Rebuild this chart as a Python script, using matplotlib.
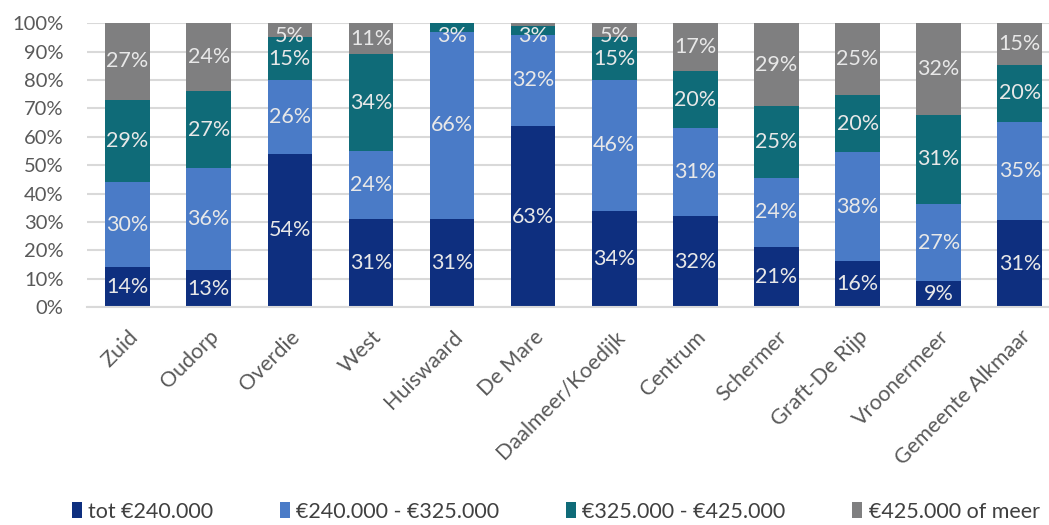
import numpy as np
import matplotlib.pyplot as plt
from matplotlib.patches import Patch

plt.rcParams['font.family'] = ['Lato', 'DejaVu Sans']

wijken = ['Zuid', 'Oudorp', 'Overdie', 'West', 'Huiswaard', 'De Mare',
          'Daalmeer/Koedijk', 'Centrum', 'Schermer', 'Graft-De Rijp',
          'Vroonermeer', 'Gemeente Alkmaar']

# share of homes per price class (%)
tot_240 = [14, 13, 54, 31, 31, 63, 34, 32, 21, 16, 9, 31]
van_240_325 = [30, 36, 26, 24, 66, 32, 46, 31, 24, 38, 27, 35]
van_325_425 = [29, 27, 15, 34, 3, 3, 15, 20, 25, 20, 31, 20]
vanaf_425 = [27, 24, 5, 11, 0, 1, 5, 17, 29, 25, 32, 15]

klassen = ['tot €240.000', '€240.000 - €325.000', '€325.000 - €425.000', '€425.000 of meer']
kleuren = ['#0e2f7f', '#4a7bc7', '#0f6b78', '#7f7f80']

series = np.array([tot_240, van_240_325, van_325_425, vanaf_425], dtype=float)
totals = series.sum(axis=0)
shares = series / totals * 100  # 100% stacked

fig = plt.figure(figsize=(10.49, 5.25), dpi=100)
ax = fig.add_axes([0.083, 0.415, 0.917, 0.541])

x = np.arange(len(wijken))
bottom = np.zeros(len(wijken))
for i in range(4):
    ax.bar(x, shares[i], 0.55, bottom=bottom, color=kleuren[i], zorder=2)
    for j in range(len(wijken)):
        if series[i, j] >= 3:
            yc = min(bottom[j] + shares[i, j] / 2, 95.5)
            ax.text(x[j], yc, '%d%%' % series[i, j], ha='center', va='center',
                    color='#e8e8e8', fontsize=15.5, zorder=3)
    bottom += shares[i]

ax.set_ylim(0, 100)
ax.set_xlim(-0.5, 11.36)
ax.set_yticks(np.arange(0, 101, 10))
ax.set_yticklabels(['%d%%' % v for v in range(0, 101, 10)])
ax.yaxis.grid(True, color='#d9d9d9', linewidth=1.5, zorder=0)
ax.set_axisbelow(True)
for s in ['top', 'right', 'left']:
    ax.spines[s].set_visible(False)
ax.spines['bottom'].set_color('#d9d9d9')
ax.spines['bottom'].set_linewidth(1.5)
ax.tick_params(axis='both', length=0, labelcolor='#595959')
ax.tick_params(axis='y', pad=17, labelsize=14.5)
ax.set_xticks(x)
ax.set_xticklabels(wijken, rotation=45, ha='right', va='top', rotation_mode='anchor',
                   fontsize=15.5)
ax.tick_params(axis='x', pad=14)

handles = [Patch(facecolor=c, edgecolor='none') for c in kleuren]
fig.legend(handles, klassen, loc='center', bbox_to_anchor=(0.53, 0.025), ncol=4,
           frameon=False, fontsize=15.5, labelcolor='#404040', handlelength=0.45,
           handleheight=0.75, handletextpad=0.3, columnspacing=3.1)

fig.savefig('out.png', dpi=100)
